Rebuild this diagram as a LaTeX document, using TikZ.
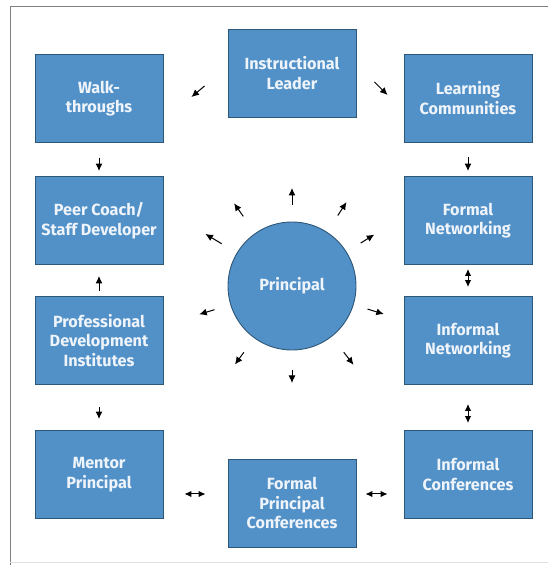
\documentclass[tikz,border=0pt]{standalone}
\usepackage{fontspec}
\setmainfont{Fira Sans}
\usetikzlibrary{arrows.meta}
\definecolor{boxblue}{HTML}{5291C8}
\definecolor{boxedge}{HTML}{2D5777}
\definecolor{boxtext}{HTML}{EEF4FA}
\definecolor{framegray}{HTML}{808080}
\begin{document}
\begin{tikzpicture}[x=1pt,y=1pt,
  blk/.style={draw=boxedge, line width=0.9pt, fill=boxblue, minimum width=128pt, minimum height=88pt, inner sep=0pt, align=center, text=boxtext, font=\fontsize{16.2}{19.5}\selectfont\bfseries},
  arr/.style={line width=1pt, -{Latex[length=7.5pt,width=7pt]}},
  darr/.style={line width=1pt, {Latex[length=7pt,width=6.5pt]}-{Latex[length=7pt,width=6.5pt]}}]
\useasboundingbox (0,0) rectangle (548,565);
\draw[framegray, line width=1pt] (10,0) -- (10,558) -- (548,558);
\draw[framegray!25, line width=0.8pt] (10,2.5) -- (548,2.5);

\node[blk] (il) at (292,492) {Instructional\\Leader};
\node[blk] (walk) at (99,466.5) {Walk-\\throughs};
\node[blk] (lc) at (468,467) {Learning\\Communities};
\node[blk] (peer) at (99,344.5) {Peer Coach/\\Staff Developer};
\node[blk] (fn) at (468,344.5) {Formal\\Networking};
\node[blk] (pd) at (99,224.5) {Professional\\Development\\Institutes};
\node[blk] (in) at (468,224.5) {Informal\\Networking};
\node[blk] (mentor) at (99,90.5) {Mentor\\Principal};
\node[blk] (ic) at (468,90.5) {Informal\\Conferences};
\node[blk] (fpc) at (292,62) {Formal\\Principal\\Conferences};
\node[circle, draw=boxedge, line width=0.9pt, fill=boxblue, minimum size=128pt, inner sep=0pt, text=boxtext, font=\fontsize{16.2}{19.5}\selectfont\bfseries] (pr) at (292,279) {Principal};

\foreach \a/\ra/\rb in {90/81/98, 125/85/101, 57/84/100, 149/82/101, 32/81/97, 197/81/97, -17/79/96, 234/82/97, -52/84/100, 270/84/97}
  \draw[arr] ([shift={(\a:\ra)}]pr.center) -- ([shift={(\a:\rb)}]pr.center);

\draw[arr] ([shift={(-23,-13)}]il.west) -- ([shift={(28,1.5)}]walk.east);
\draw[arr] ([shift={(18,-9)}]il.east) -- ([shift={(-16,3)}]lc.west);
\draw[arr] ([yshift=-15pt]walk.south) -- ([yshift=5pt]peer.north);
\draw[arr] ([yshift=-15pt]lc.south) -- ([yshift=5pt]fn.north);
\draw[arr] ([yshift=5pt]pd.north) -- ([yshift=-11pt]peer.south);
\draw[arr] ([yshift=-22pt]pd.south) -- ([yshift=11pt]mentor.north);
\draw[darr] ([yshift=-4pt]fn.south) -- ([yshift=9pt]in.north);
\draw[darr] ([yshift=-19pt]in.south) -- ([yshift=7pt]ic.north);
\draw[darr] ([shift={(21,-19.5)}]mentor.east) -- ([shift={(-22,9)}]fpc.west);
\draw[darr] ([shift={(9,9)}]fpc.east) -- ([shift={(-16,-19.5)}]ic.west);
\end{tikzpicture}
\end{document}
